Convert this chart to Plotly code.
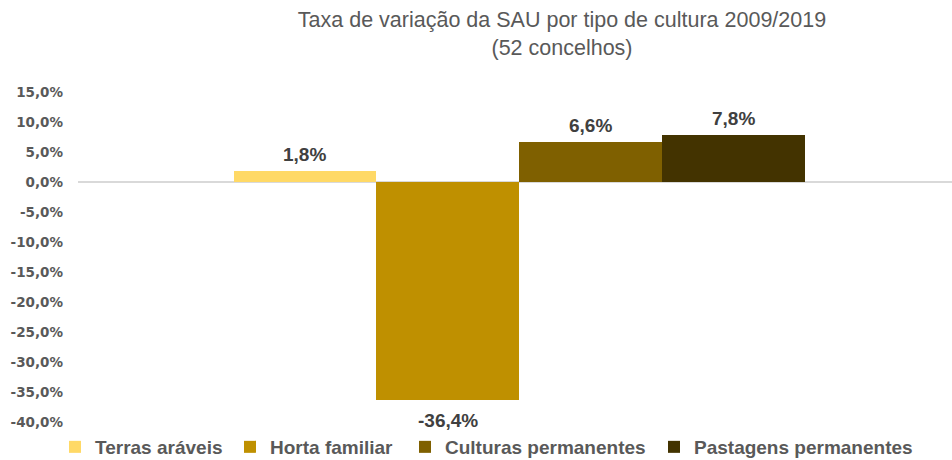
import plotly.graph_objects as go

# ---- data ----
categories = ["Terras aráveis", "Horta familiar", "Culturas permanentes", "Pastagens permanentes"]
values = [1.8, -36.4, 6.6, 7.8]
labels = ["1,8%", "-36,4%", "6,6%", "7,8%"]
colors = ["#FFD966", "#BF9000", "#7F6000", "#433300"]
tick_vals = [15, 10, 5, 0, -5, -10, -15, -20, -25, -30, -35, -40]
tick_text = ["15,0%", "10,0%", "5,0%", "0,0%", "-5,0%", "-10,0%", "-15,0%", "-20,0%",
             "-25,0%", "-30,0%", "-35,0%", "-40,0%"]

W, H = 952, 460
legend_text_x = [96, 271, 446, 695]   # pixel where each legend label starts

fig = go.Figure()
legend_ids = ["legend", "legend2", "legend3", "legend4"]
for i, (cat, val, col) in enumerate(zip(categories, values, colors)):
    fig.add_trace(go.Bar(
        x=[cat], y=[val], name=cat, marker=dict(color=col, line=dict(width=0)),
        legend=legend_ids[i], hoverinfo="skip", showlegend=True,
    ))

annotations = []
for cat, val, lab in zip(categories, values, labels):
    annotations.append(dict(
        x=cat, y=val, text=lab, showarrow=False, xref="x", yref="y",
        yshift=17 if val >= 0 else -20, yanchor="middle",
        font=dict(family="Liberation Sans, Arial, sans-serif", size=19, color="#404040", weight="bold"),
    ))

layout_legends = {}
for i, lid in enumerate(legend_ids):
    layout_legends[lid] = dict(
        visible=True,
        orientation="h", xref="container", yref="container",
        x=(legend_text_x[i] - 41) / W, xanchor="left",
        y=(H - 447) / H, yanchor="middle",
        font=dict(family="Liberation Sans, Arial, sans-serif", size=19, color="#595959", weight="bold"),
        bgcolor="rgba(0,0,0,0)", borderwidth=0, itemwidth=30,
    )

fig.update_layout(
    width=W, height=H,
    margin=dict(l=78, r=0, t=91.5, b=38, pad=0, autoexpand=False),
    paper_bgcolor="white", plot_bgcolor="white",
    showlegend=True,
    barmode="overlay", bargap=0,
    title=dict(
        text="Taxa de variação da SAU por tipo de cultura 2009/2019<br>(52 concelhos)",
        x=562 / W, xanchor="center", xref="container",
        y=1 - 27 / H, yanchor="top", yref="container",
        font=dict(family="Liberation Sans, Arial, sans-serif", size=21.5, color="#595959"),
    ),
    xaxis=dict(
        type="category", categoryorder="array", categoryarray=categories,
        range=[-1.590, 4.532], showticklabels=False, showgrid=False,
        showline=False, zeroline=False, ticks="", automargin=False,
    ),
    yaxis=dict(
        range=[-40, 15], tickvals=tick_vals, ticktext=tick_text,
        showgrid=False, showline=False, zeroline=True, zerolinecolor="#D9D9D9",
        zerolinewidth=2, ticks="", ticklabelstandoff=14, automargin=False,
        tickfont=dict(family="DejaVu Sans, Verdana, sans-serif", size=13.5, color="#595959", weight="bold"),
    ),
    annotations=annotations,
    **layout_legends,
)

fig.write_html(
    "out.html",
    config={"displayModeBar": False},
    post_script="document.body.style.margin='0';document.body.style.overflow='hidden';",
)
